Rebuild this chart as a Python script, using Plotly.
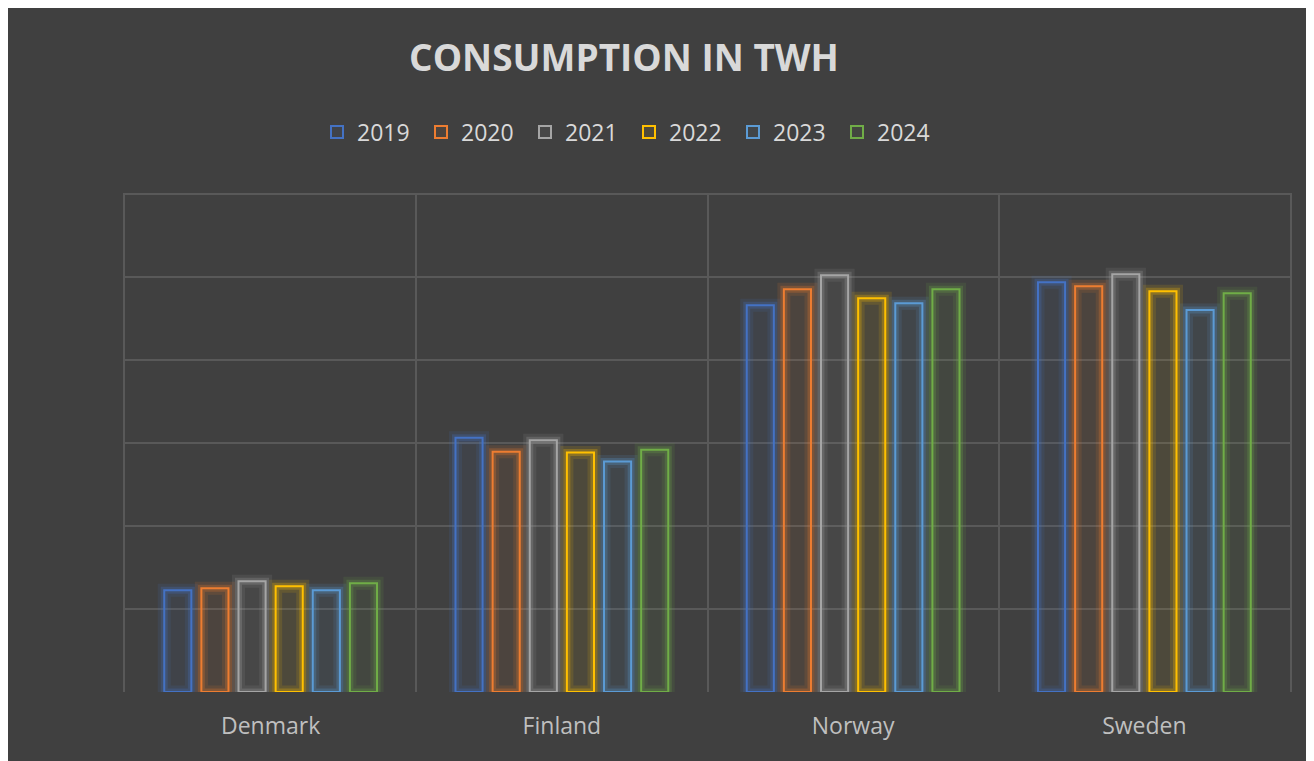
import plotly.graph_objects as go

# data (TWh, y grid every 25)
countries = ["Denmark", "Finland", "Norway", "Sweden"]
years = ["2019", "2020", "2021", "2022", "2023", "2024"]
v2019 = [30.7, 76.6, 116.6, 123.5]
v2020 = [31.3, 72.4, 121.4, 122.3]
v2021 = [33.4, 75.9, 125.6, 125.9]
v2022 = [31.9, 72.2, 118.7, 120.8]
v2023 = [30.7, 69.5, 117.2, 115.1]
v2024 = [32.8, 73.0, 121.4, 120.2]
series = [v2019, v2020, v2021, v2022, v2023, v2024]

colors = ["#4472C4", "#ED7D31", "#A5A5A5", "#FFC000", "#5B9BD5", "#70AD47"]

# page body has an 8px margin, so figure px = screen px - 8
W, H = 1314, 761
OFF = 8
ML, MT = 125 - OFF, 193 - OFF
MR = W - (1290 - OFF)
MB = H - (692 - OFF)
PW, PH = W - ML - MR, H - MT - MB
BG = "#404040"
GRID = "#595959"
FONT = "Open Sans"


def rgba(hex_color, a):
    h = hex_color.lstrip("#")
    r, g, b = int(h[0:2], 16), int(h[2:4], 16), int(h[4:6], 16)
    return f"rgba({r},{g},{b},{a})"


fig = go.Figure()

for i, (yr, vals, col) in enumerate(zip(years, series, colors)):
    # soft glow behind each outlined bar
    fig.add_trace(go.Bar(
        x=countries, y=vals, offsetgroup=str(i), showlegend=False,
        hoverinfo="skip",
        marker=dict(color="rgba(0,0,0,0)", line=dict(color=rgba(col, 0.13), width=13)),
    ))
    fig.add_trace(go.Bar(
        x=countries, y=vals, offsetgroup=str(i), showlegend=False,
        hoverinfo="skip",
        marker=dict(color="rgba(0,0,0,0)", line=dict(color=rgba(col, 0.25), width=7)),
    ))
    fig.add_trace(go.Bar(
        x=countries, y=vals, offsetgroup=str(i), name=yr,
        marker=dict(color=rgba(col, 0.07), line=dict(color=col, width=2)),
    ))

fig.update_layout(
    width=W, height=H,
    margin=dict(l=ML, r=MR, t=MT, b=MB),
    paper_bgcolor=BG, plot_bgcolor=BG,
    barmode="group", bargap=0.235, bargroupgap=0.27,
    font=dict(family=FONT, color="#D9D9D9"),
    title=dict(
        text="<b>CONSUMPTION IN TWH</b>", x=(624 - OFF) / W, xref="container", xanchor="center",
        y=1 - (58 - OFF) / H, yref="container", yanchor="middle",
        font=dict(size=37, color="#D9D9D9", family=FONT),
    ),
    legend=dict(
        orientation="h", x=(629 - OFF - ML) / PW, xanchor="center",
        y=(H - MB - (132 - OFF)) / PH, yanchor="middle",
        font=dict(size=23, color="#D9D9D9"), bgcolor="rgba(0,0,0,0)",
        traceorder="normal", entrywidth=59,
    ),
    xaxis=dict(
        showgrid=True, gridcolor=GRID, gridwidth=1.5, tickson="boundaries",
        ticks="", showline=False, zeroline=False, ticklabelstandoff=18,
        tickfont=dict(size=23, color="#BFBFBF"),
    ),
    yaxis=dict(
        range=[0, 150.4], dtick=25, showgrid=True, gridcolor=GRID, gridwidth=1.5,
        showticklabels=False, ticks="", zeroline=False,
        showline=True, mirror=True, linecolor=GRID, linewidth=1.5,
    ),
)

fig.write_html("out.html")
